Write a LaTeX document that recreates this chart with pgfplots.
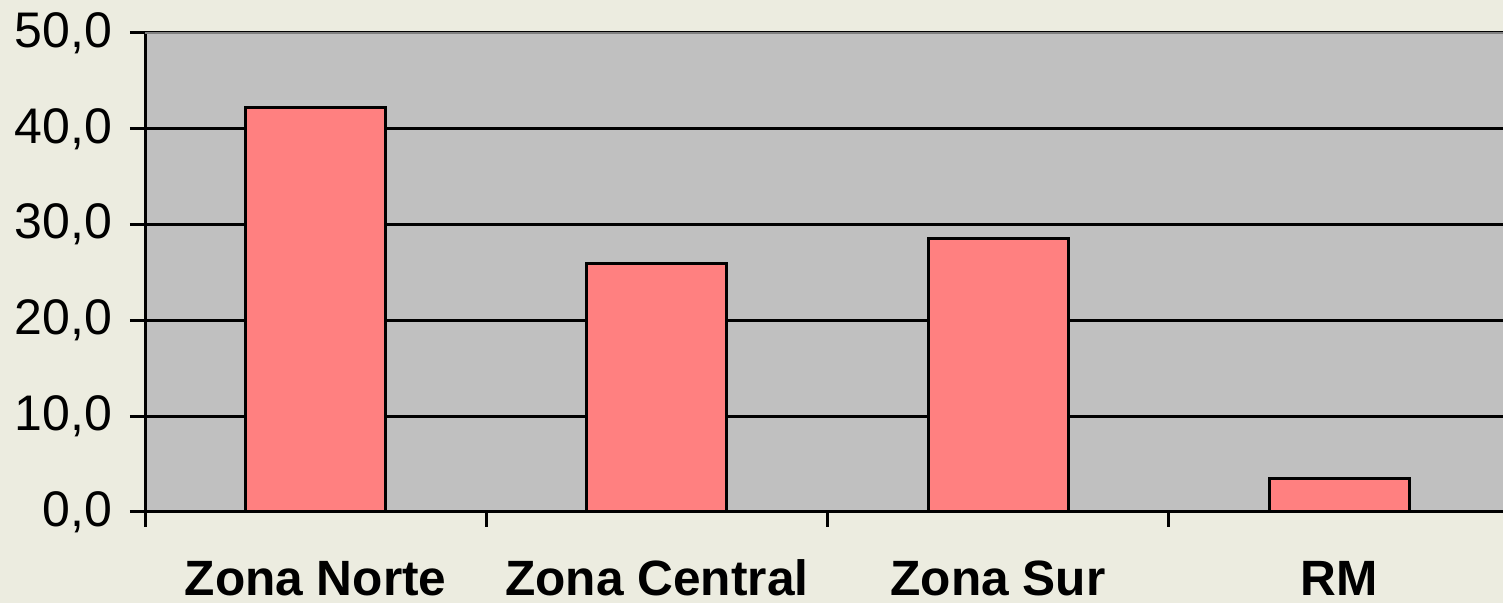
\documentclass[border=0pt]{standalone}
\usepackage{pgfplots}
\pgfplotsset{compat=1.18}
\usepackage{fontspec}
\setmainfont{Liberation Sans}
\definecolor{bgc}{RGB}{236,236,224}
\definecolor{plotgray}{RGB}{192,192,192}
\definecolor{barred}{RGB}{255,128,128}
\definecolor{topgray}{RGB}{128,128,128}
\begin{document}
\begin{tikzpicture}
\clip (0,0) rectangle (751.5pt,301.5pt);
\fill[bgc] (0,0) rectangle (751.5pt,301.5pt);
\begin{axis}[
  at={(72.5pt,45.5pt)}, anchor=south west,
  scale only axis, width=682.5pt, height=239.5pt,
  xmin=-0.5, xmax=3.5, ymin=0, ymax=50,
  axis background/.style={fill=plotgray},
  axis x line*=bottom, axis y line*=left,
  axis line style={-, line width=1.5pt, black},
  xtick={0,1,2,3},
  xticklabels={Zona Norte, Zona Central, Zona Sur, RM},
  major x tick style={draw=none},
  minor xtick={-0.5,0.5,1.5,2.5,3.5},
  minor x tick style={black, line width=1.5pt},
  minor tick length=7.5pt,
  ytick={0,10,20,30,40,50},
  major tick length=7.5pt,
  y tick style={black, line width=1.5pt},
  tick align=outside,
  ymajorgrids,
  grid style={black, line width=1.5pt},
  yticklabel style={font=\fontsize{25}{25}\selectfont, xshift=-5.5pt, /pgf/number format/.cd, fixed, fixed zerofill, precision=1, use comma, assume math mode=true},
  xticklabel style={font=\fontsize{24.8}{25}\selectfont\bfseries, text height=18pt, text depth=0pt, inner sep=0pt, yshift=-16.3pt},
  ybar, bar width=0.41,
]
\addplot[fill=barred, draw=black, line width=1.5pt] coordinates {(0,42.2) (1,25.9) (2,28.6) (3,3.5)};
\draw[topgray, line width=1.5pt] (axis cs:-0.5,50) -- (axis cs:3.5,50);
\end{axis}
\end{tikzpicture}
\end{document}
